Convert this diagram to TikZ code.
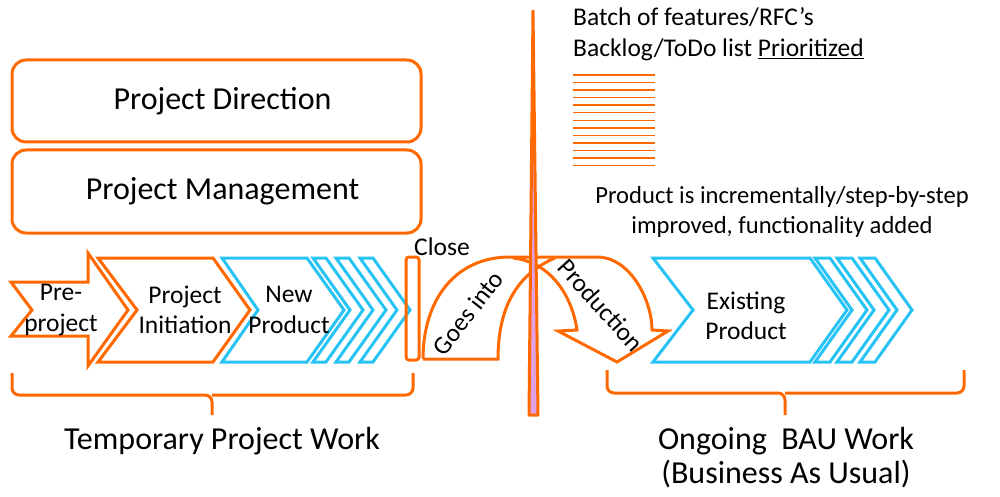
\documentclass[tikz,border=0pt]{standalone}
\usepackage{fontspec}
\setmainfont{Carlito}
\usetikzlibrary{positioning}

\definecolor{pmorange}{RGB}{255,105,0}
\definecolor{pmblue}{RGB}{40,195,245}
\definecolor{pmpink}{RGB}{225,160,225}

\tikzset{
  phasebox/.style={draw=pmorange, line width=3pt, rounded corners=14pt, minimum width=409pt},
  orangeshape/.style={draw=pmorange, line width=3pt},
  blueshape/.style={draw=pmblue, line width=3pt},
  bracket/.style={draw=pmorange, line width=3pt, rounded corners=7pt},
  lbl/.style={inner sep=0pt, font=\fontsize{25.5}{30.5}\selectfont, align=center},
  biglbl/.style={inner sep=0pt, font=\fontsize{32}{34}\selectfont, align=center},
}

\begin{document}
\begin{tikzpicture}[x=1pt,y=-1pt]
    \useasboundingbox (0,0) rectangle (1000,497);

    % === PROJECT BOXES ===
    \node[phasebox, minimum height=82pt] (dir) at (216.5,101) {};
    \node[biglbl] (dirtext) at ([xshift=6pt]dir.center) {Project Direction};
    \node[phasebox, minimum height=83pt] (mgmt) at (216.5,191.5) {};
    \node[biglbl] (mgmttext) at ([xshift=6pt]mgmt.center) {Project Management};

    % === TEMPORARY PROJECT WORK ===
    \draw[orangeshape] (11,282) -- (88,282) -- (88,253) -- (128,310) -- (88,366) -- (88,336) -- (11,336) -- (32,310) -- cycle;
    \node[lbl] (pre) at (61,310) {Pre-\\project};
    \draw[orangeshape] (98,258) -- (213,258) -- (250,310) -- (213,362) -- (98,362) -- (137,310) -- cycle;
    \node[lbl] (init) at (185,310) {Project\\Initiation};
    \draw[blueshape] (222,258) -- (307,258) -- (344,310) -- (307,362) -- (222,362) -- (258,310) -- cycle;
    \node[lbl] (new) at (289,310) {New\\Product};
    \foreach \x in {313,336,360} {
        \draw[blueshape] (\x,258) -- ++(13,0) -- ++(37,52) -- ++(-37,52) -- ++(-13,0) -- ++(37,-52) -- cycle;
    }
    % Close
    \draw[orangeshape, rounded corners=3pt] (406,257) rectangle (419,360);
    \node[lbl] (close) at (442,247) {Close};

    % === GOES INTO PRODUCTION ===
    \draw[orangeshape, line join=miter] (423,359) .. controls (423,300) and (455,257) .. (510,257) -- (597,257)
        .. controls (630,257) and (652,300) .. (652,330) -- (668,331) -- (617,362) -- (558,331) -- (577,330)
        .. controls (572,295) and (550,262) .. (513,258);
    \draw[orangeshape] (423,359) -- (498,359) .. controls (498,310) and (515,275) .. (555,258);
    \node[lbl, rotate=52] (goes) at (468,313) {Goes into};
    \node[lbl, rotate=-48] (prod) at (601,305) {Production};

    % separator
    \draw[draw=pmorange, fill=pmpink, line width=3pt, line join=round] (533,11) -- (538,415) -- (529,415) -- cycle;

    % === BACKLOG ===
    \node[lbl, anchor=base west] (batch) at (573,26) {Batch of features/RFC’s};
    \node[lbl, anchor=base west] (backlog) at (573,57) {Backlog/ToDo list \underline{Prioritized}};
    \foreach \i in {0,...,12} {
        \draw[pmorange, line width=1.5pt] (573,75+7.55*\i) -- (655,75+7.55*\i);
    }
    \node[lbl, font=\fontsize{24.6}{30.5}\selectfont] (improve) at (782,212) {Product is incrementally/step-by-step\\improved, functionality added};

    % === ONGOING BAU WORK ===
    \draw[blueshape] (653,258) -- (810,258) -- (847,310) -- (810,362) -- (653,362) -- (693,310) -- cycle;
    \node[lbl] (exist) at (746,316) {Existing\\Product};
    \foreach \x in {815,837,860} {
        \draw[blueshape] (\x,258) -- ++(15,0) -- ++(37,52) -- ++(-37,52) -- ++(-15,0) -- ++(37,-52) -- cycle;
    }

    % Brackets
    \draw[bracket] (12,373) |- (212,395) -- (212,415);
    \draw[bracket] (212,395) -| (413,373);
    \draw[bracket] (607,370) |- (785,393) -- (785,415);
    \draw[bracket] (785,393) -| (964,370);
    \node[biglbl] (temp) at (222,441) {Temporary Project Work};
    \node[biglbl] (bau) at (786,458) {Ongoing\ \ BAU Work\\(Business As Usual)};
\end{tikzpicture}
\end{document}
